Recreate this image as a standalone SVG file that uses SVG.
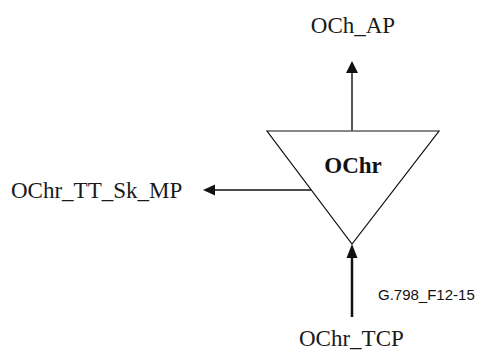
<svg xmlns="http://www.w3.org/2000/svg" width="478" height="352" viewBox="0 0 478 352">
<style>
.lbl{font-family:"Liberation Serif","Times New Roman",serif;font-size:23px;fill:#1a1a1a}
.bold{font-family:"Liberation Serif","Times New Roman",serif;font-size:23px;font-weight:bold;fill:#111}
.id{font-family:"Liberation Sans",Arial,sans-serif;font-size:15px;fill:#111}
.tri{fill:none;stroke:#111;stroke-width:1.2}
</style>
<rect width="478" height="352" fill="#fff"/>
<g id="node-OChr">
<polygon class="tri" points="267,131 439,131 352,244"/>
<text class="bold" x="353" y="173" text-anchor="middle">OChr</text>
</g>
<g id="connectors">
<line x1="352" y1="131" x2="352" y2="72" stroke="#555" stroke-width="2"/>
<polygon points="352,61 346,73 358,73" fill="#111"/>
<line x1="311" y1="190" x2="214" y2="190" stroke="#111" stroke-width="1.3"/>
<polygon points="203,190 215,184.5 215,195.5" fill="#111"/>
<line x1="352" y1="317" x2="352" y2="256" stroke="#111" stroke-width="2.5"/>
<polygon points="352,244 346.5,258 357.5,258" fill="#111"/>
</g>
<g id="node-OCh_AP"><text class="lbl" x="353" y="33" text-anchor="middle">OCh_AP</text></g>
<g id="node-OChr_TT_Sk_MP"><text class="lbl" x="11" y="198">OChr_TT_Sk_MP</text></g>
<g id="node-OChr_TCP"><text class="lbl" x="299" y="346">OChr_TCP</text></g>
<text class="id" x="378" y="300">G.798_F12-15</text>
</svg>
